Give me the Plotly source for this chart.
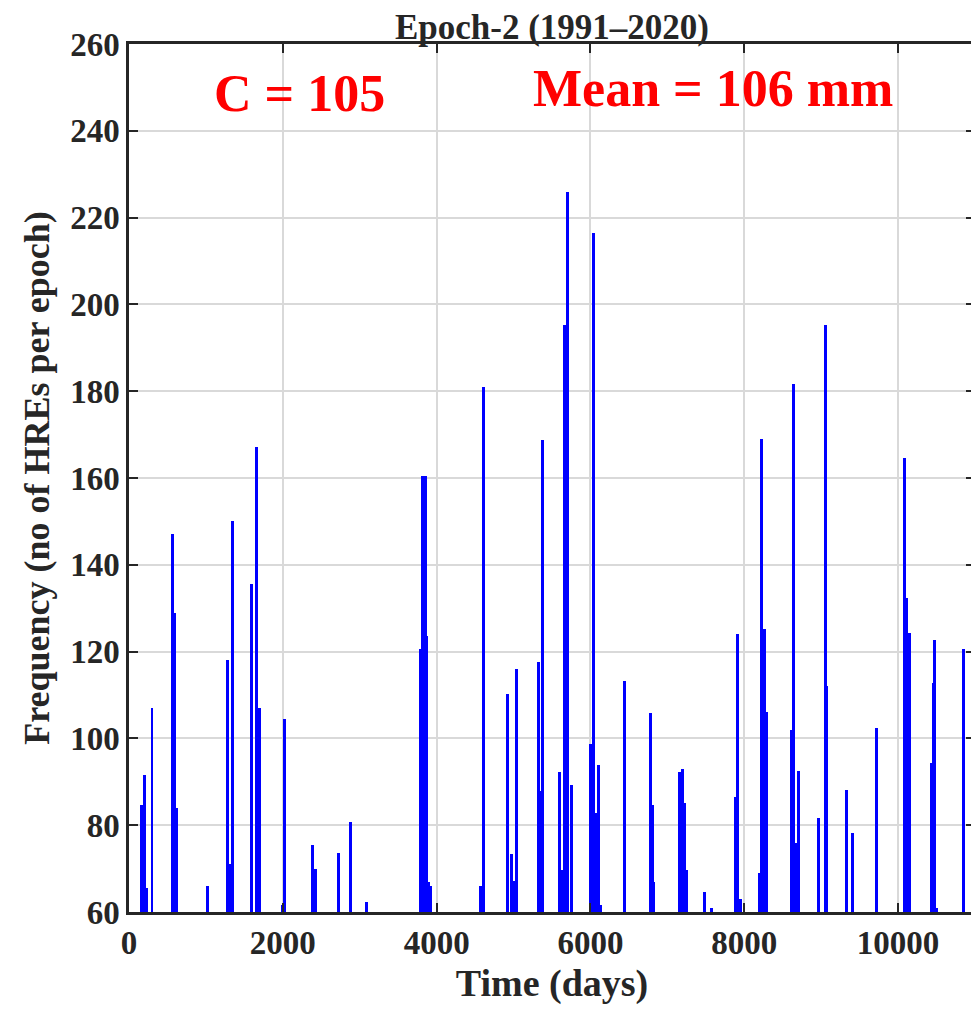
import plotly.graph_objects as go

# event days and frequencies
days = [163, 202, 234, 299, 566, 598, 618, 1015, 1281, 1307, 1340, 1594, 1659, 1698,
        1997, 2023, 2387, 2426, 2721, 2881, 3089, 3785, 3818, 3850, 3863, 3896, 3922,
        4572, 4611, 4923, 4972, 5002, 5041, 5327, 5353, 5379, 5600, 5626, 5665, 5704,
        5756, 6003, 6042, 6075, 6107, 6127, 6446, 6784, 6810, 6823, 7161, 7200, 7226,
        7252, 7486, 7577, 7883, 7911, 7954, 8202, 8224, 8267, 8293, 8618, 8640, 8670,
        8709, 8969, 9051, 9066, 9333, 9405, 9724, 10088, 10114, 10153, 10439, 10459,
        10478, 10504, 10855]
freq = [84.7, 91.6, 65.5, 107, 147, 129, 84, 66, 118, 71, 150, 135.5, 167.2, 107,
        61.5, 104.5, 75.5, 70, 73.7, 80.8, 62.4, 120.7, 160.5, 160.5, 123.5, 67, 66,
        66, 181, 110.2, 73.4, 67.1, 116.1, 117.7, 87.8, 168.7, 92.3, 69.6, 195.3, 225.9,
        89.3, 98.8, 216.5, 82.7, 93.8, 61.7, 113.3, 105.9, 84.6, 66.8, 92.3, 92.9, 85.2,
        69.6, 64.6, 60.9, 86.5, 124.1, 63, 69.1, 169, 125.1, 106, 102, 181.7, 76,
        92.4, 81.6, 195.2, 112, 88, 78.3, 102.5, 164.7, 132.4, 124.4, 94.4, 112.8,
        122.7, 60.9, 120.7]

x_ticks = [0, 2000, 4000, 6000, 8000, 10000]
y_ticks = [60, 80, 100, 120, 140, 160, 180, 200, 220, 240, 260]

font = "Liberation Serif"
ink = "#262626"

fig = go.Figure()
fig.add_trace(go.Bar(
    x=days, y=freq, width=38,
    marker=dict(color="#0000FF", line=dict(width=0)),
    showlegend=False,
))

# page body adds ~8px, so the figure is a bit smaller than the window
fig.update_layout(
    width=971, height=1003,
    margin=dict(l=121, r=4, t=36, b=99),
    paper_bgcolor="white", plot_bgcolor="white",
    bargap=0,
    font=dict(family=font, color=ink),
    title=dict(text="<b>Epoch-2 (1991–2020)</b>", xref="paper", x=0.5, xanchor="center",
               yref="container", y=0.9815, yanchor="middle",
               font=dict(size=35, family=font, color=ink)),
)

fig.update_xaxes(
    range=[0, 11000], tickvals=x_ticks, ticktext=[f"<b>{v}</b>" for v in x_ticks],
    tickfont=dict(size=33, family=font, color=ink),
    showgrid=True, gridcolor="#d9d9d9", gridwidth=2,
    showline=True, linecolor=ink, linewidth=2.5, mirror="allticks",
    ticks="inside", ticklen=9, tickwidth=2, tickcolor=ink,
    zeroline=False, automargin=False,
    title=dict(text="<b>Time (days)</b>", font=dict(size=38, family=font, color=ink), standoff=10),
)
fig.update_yaxes(
    range=[60, 260], tickvals=y_ticks, ticktext=[f"<b>{v}</b>" for v in y_ticks],
    tickfont=dict(size=33, family=font, color=ink),
    showgrid=True, gridcolor="#d9d9d9", gridwidth=2,
    showline=True, linecolor=ink, linewidth=2.5, mirror="allticks",
    ticks="inside", ticklen=9, tickwidth=2, tickcolor=ink,
    zeroline=False, automargin=False,
    title=dict(text="<b>Frequency (no of HREs per epoch)</b>",
               font=dict(size=36, family=font, color=ink), standoff=10),
)

fig.add_annotation(x=0.201, y=0.9435, xref="paper", yref="paper", showarrow=False,
                   xanchor="center", yanchor="middle",
                   text="<b>C = 105</b>", font=dict(size=52, family=font, color="#FF0000"))
fig.add_annotation(x=0.690, y=0.949, xref="paper", yref="paper", showarrow=False,
                   xanchor="center", yanchor="middle",
                   text="<b>Mean = 106 mm</b>", font=dict(size=52, family=font, color="#FF0000"))

fig.write_html("out.html")
